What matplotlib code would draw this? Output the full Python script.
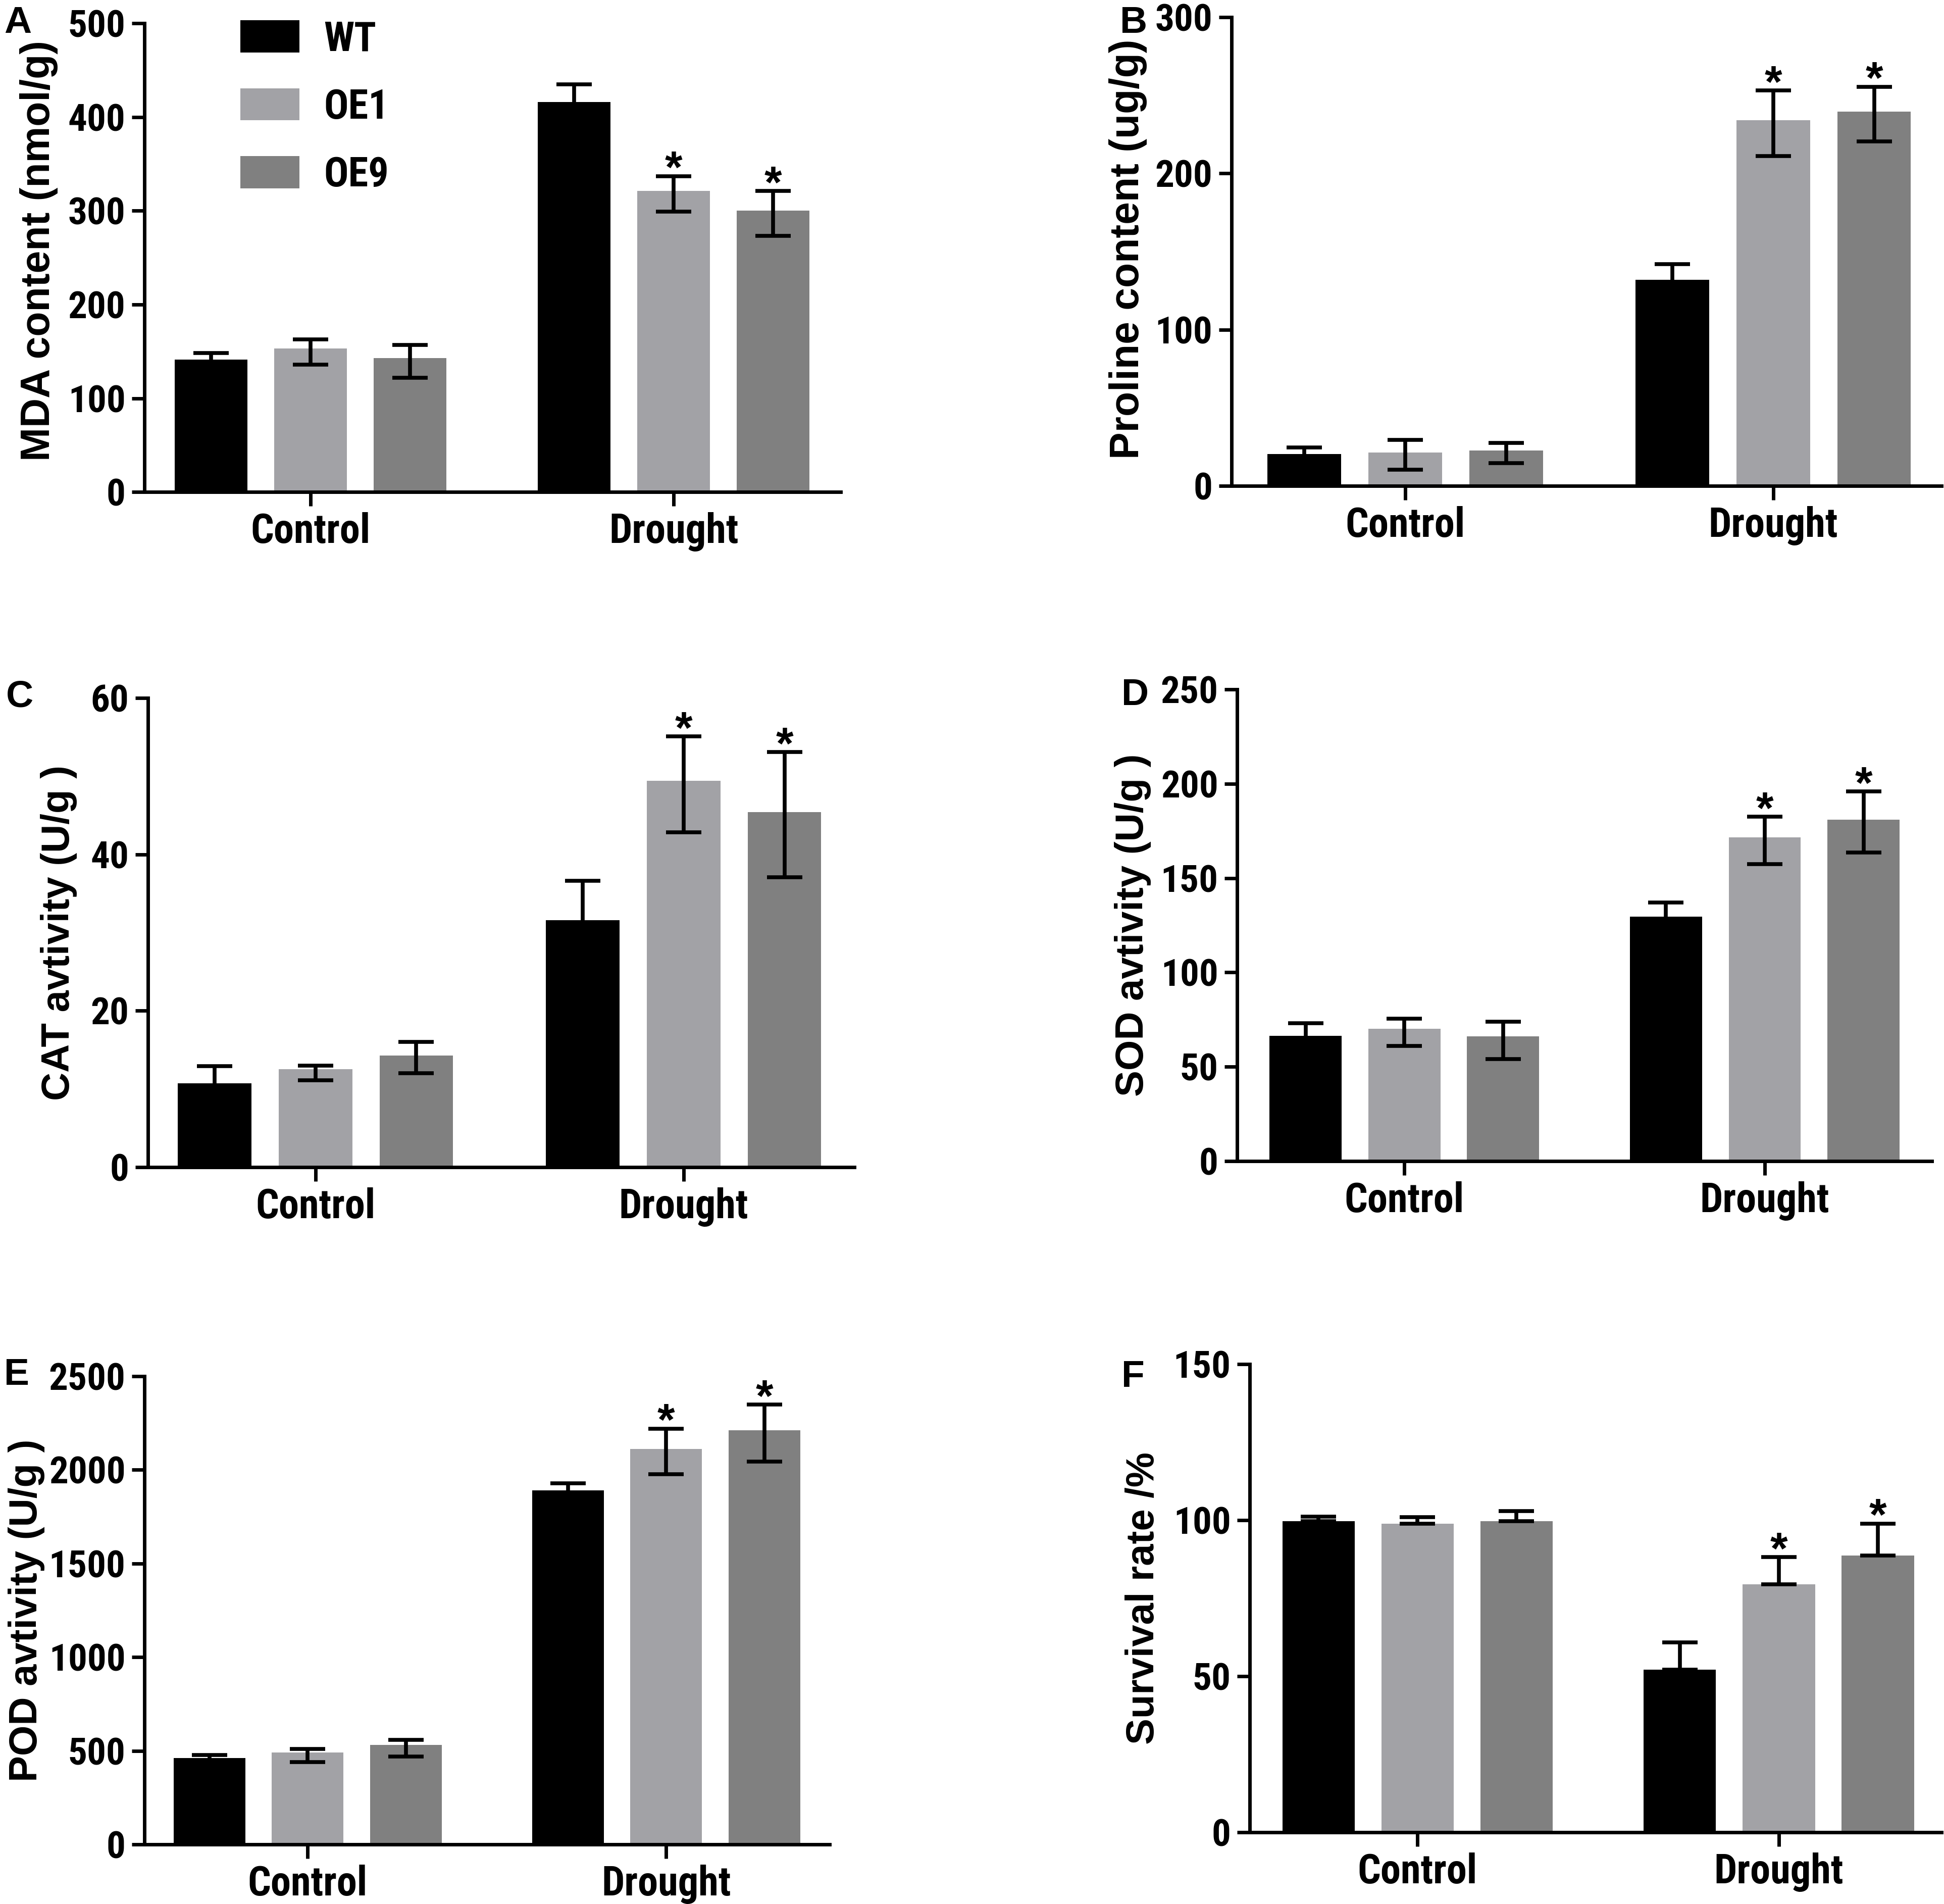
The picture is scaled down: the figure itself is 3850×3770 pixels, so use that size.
import numpy as np
import matplotlib.pyplot as plt

groups = ["Control", "Drought"]
lines = ["WT", "OE1", "OE9"]
colors = ["#000000", "#a2a2a6", "#808080"]

# A: MDA content (nmol/g)
mda = [[141, 416], [153, 321], [143, 300]]
mda_lo = [[7, 19], [17, 22], [21, 27]]
mda_hi = [[7, 19], [10, 16], [14, 21]]

# B: proline content (ug/g)
pro = [[20.5, 132], [21.5, 234], [22.5, 239.5]]
pro_lo = [[4, 10], [11, 23], [8, 19]]
pro_hi = [[4, 10], [8, 19], [5, 16]]

# C: CAT activity
cat = [[10.7, 31.6], [12.5, 49.4], [14.3, 45.4]]
cat_lo = [[2.2, 5.0], [1.4, 6.6], [2.3, 8.3]]
cat_hi = [[2.2, 5.0], [0.5, 5.7], [1.7, 7.7]]

# D: SOD activity
sod = [[66.5, 129.5], [70, 171.5], [66, 181]]
sod_lo = [[6.5, 7.5], [9, 14], [12, 17.5]]
sod_hi = [[6.5, 7.5], [5.5, 11], [8, 15]]

# E: POD activity
pod = [[462, 1890], [491, 2111], [530, 2210]]
pod_lo = [[16, 39], [52, 135], [62, 165]]
pod_hi = [[16, 39], [20, 109], [29, 139]]

# F: survival rate (upper error only)
surv = [[99.7, 52], [98.8, 79.4], [99.7, 88.7]]
surv_lo = [[0, 0], [0, 0], [0, 0]]
surv_hi = [[1.4, 8.8], [2.2, 8.7], [3.2, 10.2]]

# significance marks (line index, group index)
stars = [(1, 1), (2, 1)]

panels = [
    dict(letter="A", vals=mda, lo=mda_lo, hi=mda_hi, ymax=500, step=100,
         ylabel="MDA content (nmol/g)", lsize=58,
         rect=[0.0743, 0.7416, 0.3582, 0.2462], xlim=(-0.458, 1.46),
         lab=(-0.124, 0.515), let=(0.002, 0.997)),
    dict(letter="B", vals=pro, lo=pro_lo, hi=pro_hi, ymax=300, step=100,
         ylabel="Proline content (ug/g)", lsize=58,
         rect=[0.6335, 0.7448, 0.3652, 0.2462], xlim=(-0.472, 1.457),
         lab=(-0.119, 0.505), let=(0.576, 0.997)),
    dict(letter="C", vals=cat, lo=cat_lo, hi=cat_hi, ymax=60, step=20,
         ylabel="CAT avtivity (U/g )", lsize=56,
         rect=[0.0761, 0.3870, 0.3634, 0.2464], xlim=(-0.455, 1.464),
         lab=(-0.10, 0.5), let=(0.003, 0.643)),
    dict(letter="D", vals=sod, lo=sod_lo, hi=sod_hi, ymax=250, step=50,
         ylabel="SOD avtivity (U/g )", lsize=56,
         rect=[0.6364, 0.3902, 0.3574, 0.2477], xlim=(-0.464, 1.464),
         lab=(-0.124, 0.5), let=(0.577, 0.644)),
    dict(letter="E", vals=pod, lo=pod_lo, hi=pod_hi, ymax=2500, step=500,
         ylabel="POD avtivity (U/g )", lsize=56,
         rect=[0.0743, 0.0313, 0.3525, 0.2459], xlim=(-0.455, 1.456),
         lab=(-0.145, 0.5), let=(0.002, 0.287)),
    dict(letter="F", vals=surv, lo=surv_lo, hi=surv_hi, ymax=150, step=50,
         ylabel="Survival rate /%", lsize=56,
         rect=[0.6429, 0.0377, 0.3558, 0.2459], xlim=(-0.464, 1.45),
         lab=(-0.127, 0.5), let=(0.577, 0.286)),
]

narrow = ["Roboto Condensed", "PT Sans Narrow", "Liberation Sans"]
wide = ["Liberation Sans", "DejaVu Sans"]

fig = plt.figure(figsize=(38.5, 37.7), dpi=100)
x = np.arange(len(groups))
offset = 0.274
width = 0.2

for p in panels:
    ax = fig.add_axes(p["rect"])
    for i, name in enumerate(lines):
        pos = x + (i - 1) * offset
        ax.bar(pos, p["vals"][i], width, color=colors[i], label=name, zorder=2)
        ax.errorbar(pos, p["vals"][i], yerr=[p["lo"][i], p["hi"][i]], fmt="none",
                    ecolor="black", elinewidth=5.5, capsize=25, capthick=5.5, zorder=3)
    for i, g in stars:
        top = p["vals"][i][g] + p["hi"][i][g]
        ax.annotate("*", (x[g] + (i - 1) * offset, top), xytext=(0, -9),
                    textcoords="offset points", ha="center", va="baseline",
                    fontsize=64, fontweight="bold", family=wide)
    ax.set_xlim(*p["xlim"])
    ax.set_ylim(0, p["ymax"])
    ax.set_yticks(np.arange(0, p["ymax"] + 1, p["step"]))
    ax.set_xticks(x)
    ax.set_xticklabels(groups)
    for s in ["top", "right"]:
        ax.spines[s].set_visible(False)
    for s in ["left", "bottom"]:
        ax.spines[s].set_linewidth(5)
    ax.tick_params(axis="y", length=18, width=5, pad=9)
    ax.tick_params(axis="x", length=20, width=5, pad=9)
    for t in ax.get_yticklabels():
        t.set_fontsize(54)
        t.set_fontweight("bold")
        t.set_family(narrow)
    for t in ax.get_xticklabels():
        t.set_fontsize(58)
        t.set_fontweight("bold")
        t.set_family(narrow)
    ax.set_ylabel(p["ylabel"], fontsize=p["lsize"], fontweight="bold", family=wide)
    ax.yaxis.set_label_coords(*p["lab"])
    fig.text(p["let"][0], p["let"][1], p["letter"], fontsize=54,
             fontweight="bold", family=wide, ha="left", va="top")
    if p["letter"] == "A":
        ax.legend(loc="upper left", bbox_to_anchor=(0.1133, 1.0003),
                  bbox_transform=fig.transFigure, frameon=False, borderpad=0,
                  handlelength=1.45, handleheight=0.84, labelspacing=0.7,
                  handletextpad=0.6,
                  prop=dict(family=narrow, weight="bold", size=58))

fig.savefig("out.png", dpi=100)
